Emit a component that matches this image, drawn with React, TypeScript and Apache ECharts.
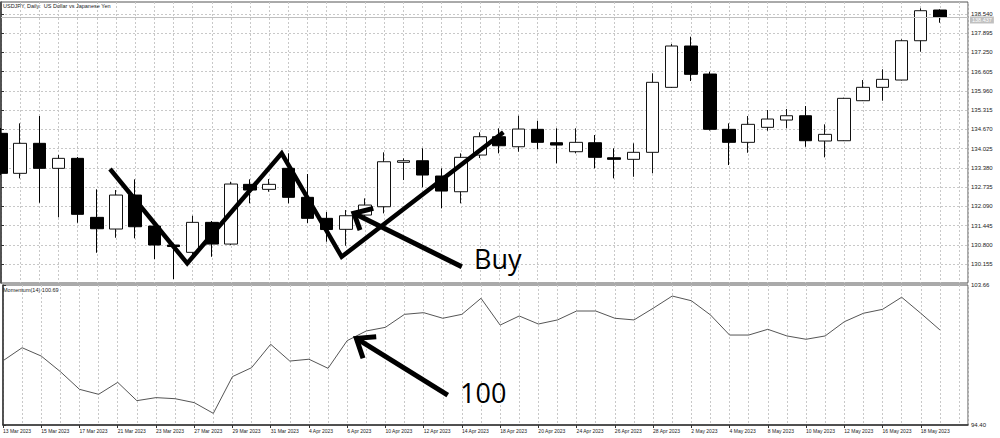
import React, { useEffect, useRef } from 'react';
import * as echarts from 'echarts';

const dates = [
  '13 Mar 2023', '14 Mar 2023', '15 Mar 2023', '16 Mar 2023', '17 Mar 2023',
  '20 Mar 2023', '21 Mar 2023', '22 Mar 2023', '23 Mar 2023', '24 Mar 2023',
  '27 Mar 2023', '28 Mar 2023', '29 Mar 2023', '30 Mar 2023', '31 Mar 2023',
  '3 Apr 2023', '4 Apr 2023', '5 Apr 2023', '6 Apr 2023', '7 Apr 2023',
  '10 Apr 2023', '11 Apr 2023', '12 Apr 2023', '13 Apr 2023', '14 Apr 2023',
  '17 Apr 2023', '18 Apr 2023', '19 Apr 2023', '20 Apr 2023', '21 Apr 2023',
  '24 Apr 2023', '25 Apr 2023', '26 Apr 2023', '27 Apr 2023', '28 Apr 2023',
  '1 May 2023', '2 May 2023', '3 May 2023', '4 May 2023', '5 May 2023',
  '8 May 2023', '9 May 2023', '10 May 2023', '11 May 2023', '12 May 2023',
  '15 May 2023', '16 May 2023', '17 May 2023', '18 May 2023', '19 May 2023',
];

const opens = [
  134.538, 133.196, 134.203, 133.364, 133.699, 131.720, 131.328, 132.468, 131.428, 130.791,
  130.546, 131.552, 130.824, 132.827, 132.659, 133.364, 132.391, 131.687, 131.318, 131.797,
  132.076, 133.565, 133.619, 133.106, 132.579, 133.810, 134.424, 134.088, 134.672, 134.223,
  133.921, 134.223, 133.719, 133.666, 133.901, 136.081, 137.467, 136.527, 134.672, 134.236,
  134.739, 134.984, 135.128, 134.280, 134.290, 135.632, 136.081, 136.326, 137.644, 138.674,
];
const closes = [
  133.196, 134.203, 133.364, 133.699, 131.821, 131.338, 132.468, 131.405, 130.791, 130.741,
  131.552, 130.824, 132.837, 132.636, 132.827, 132.391, 131.687, 131.311, 131.774, 132.133,
  133.585, 133.619, 133.139, 132.602, 133.733, 134.424, 134.122, 134.682, 134.236, 134.145,
  134.236, 133.733, 133.666, 133.901, 136.249, 137.467, 136.517, 134.672, 134.236, 134.840,
  135.018, 135.128, 134.290, 134.504, 135.712, 136.081, 136.349, 137.644, 138.651, 138.437,
];
const lows = [
  133.139, 133.028, 132.210, 131.720, 131.539, 130.533, 131.036, 131.016, 130.321, 129.650,
  130.388, 130.398, 130.791, 132.190, 132.579, 132.190, 131.529, 130.902, 130.767, 131.730,
  131.854, 132.971, 132.726, 132.022, 132.190, 133.709, 133.867, 133.921, 134.001, 133.532,
  133.867, 133.364, 133.028, 133.082, 133.196, 136.058, 136.292, 134.632, 133.475, 133.887,
  134.625, 134.706, 134.088, 133.733, 134.280, 135.622, 135.632, 136.309, 137.275, 138.248,
];
const highs = [
  134.716, 134.873, 135.118, 133.810, 133.743, 132.659, 132.636, 132.995, 131.462, 130.841,
  131.774, 131.596, 132.914, 132.995, 133.005, 133.867, 133.173, 131.898, 131.965, 132.357,
  133.901, 133.699, 134.035, 133.364, 133.867, 134.572, 134.706, 135.128, 134.961, 134.706,
  134.706, 134.481, 134.035, 134.203, 136.551, 137.534, 137.779, 136.604, 134.873, 135.118,
  135.320, 135.353, 135.454, 134.840, 135.732, 136.326, 136.685, 137.691, 138.731, 138.698,
];

const momentum = [
  98.65, 99.51, 98.96, 97.93, 96.76, 96.43, 97.22, 96.01, 96.21, 96.14,
  95.88, 95.17, 97.60, 98.19, 99.74, 98.63, 98.75, 98.15, 99.98, 100.62,
  100.86, 101.72, 101.83, 101.46, 101.72, 102.78, 101.01, 101.61, 101.08, 101.35,
  101.94, 101.94, 101.46, 101.35, 102.12, 102.93, 102.62, 101.68, 100.35, 100.35,
  100.73, 100.29, 100.07, 100.29, 101.23, 101.79, 102.05, 102.85, 101.79, 100.69,
];

const priceTicks = [
  130.155, 130.800, 131.445, 132.090, 132.735, 133.380, 134.025,
  134.670, 135.315, 135.960, 136.605, 137.250, 137.895, 138.540,
];
const momentumTicks = [94.40, 103.66];
const dateLabelIndex = [0, 2, 4, 6, 8, 10, 12, 14, 16, 18, 20, 22, 24, 26, 28, 30, 32, 34, 36, 38, 40, 42, 44, 46, 48];

// hand-drawn annotations (data coordinates: candle index, value)
const zigzag = [[5.69, 133.340], [9.72, 130.177], [14.65, 133.867], [17.78, 130.398], [26.22, 134.572]];
const buyShaft = [[24.05, 130.063], [18.42, 131.854]];
const buyHead = [[19.43, 132.022], [18.42, 131.854], [18.74, 131.294]];
const momShaft = [[23.26, 96.38], [18.48, 100.13]];
const momHead = [[19.52, 100.24], [18.48, 100.13], [18.83, 98.81]];

const FONT = 'Liberation Sans';
const X_MAX = 50.47;
const PRICE_MIN = 129.518;
const PRICE_MAX = 138.943;
const MOM_MIN = 94.40;
const MOM_MAX = 103.66;

export default function App() {
  const ref = useRef<HTMLDivElement>(null);

  useEffect(() => {
    if (!ref.current) return;
    const chart = echarts.init(ref.current, null, { renderer: 'svg' });
    const gridLine = { color: '#c8c8c8', type: [2, 2], width: 1 };
    const candles = opens.map((o, i) => [i, o, closes[i], lows[i], highs[i]]);
    const lastClose = closes[closes.length - 1];
    const lastMom = momentum[momentum.length - 1];

    const annot = (data: number[][], xi: number, yi: number, w: number) => ({
      type: 'line',
      xAxisIndex: xi,
      yAxisIndex: yi,
      data,
      symbol: 'none',
      silent: true,
      clip: false,
      z: 10,
      lineStyle: { color: '#000', width: w, cap: 'butt', join: 'miter' },
    });

    chart.setOption({
      animation: false,
      backgroundColor: '#ffffff',
      textStyle: { fontFamily: FONT },
      grid: [
        { left: 1, right: 32, top: 2, height: 281, show: true, borderColor: '#555', borderWidth: 1 },
        { left: 1, right: 32, top: 285, height: 140, show: true, borderColor: '#555', borderWidth: 1 },
      ],
      xAxis: [
        {
          type: 'value', gridIndex: 0, min: 0, max: X_MAX, interval: 1,
          axisLine: { show: false }, axisTick: { show: false }, axisLabel: { show: false },
          splitLine: { show: true, lineStyle: gridLine },
        },
        {
          type: 'value', gridIndex: 1, min: 0, max: X_MAX, interval: 1,
          axisLine: { show: false }, axisTick: { show: false }, axisLabel: { show: false },
          splitLine: { show: true, lineStyle: gridLine },
        },
        {
          type: 'value', gridIndex: 1, min: 0, max: X_MAX, position: 'bottom',
          axisLine: { show: true, lineStyle: { color: '#333', width: 1.5 } },
          axisTick: { show: true, customValues: dateLabelIndex, length: 3, lineStyle: { color: '#333' } },
          axisLabel: {
            show: true, customValues: dateLabelIndex,
            formatter: (v: number) => dates[Math.round(v)] ?? '',
            align: 'left', fontSize: 5, color: '#222', margin: 3, fontFamily: FONT,
          },
          splitLine: { show: false },
        },
      ],
      yAxis: [
        {
          type: 'value', gridIndex: 0, position: 'right', min: PRICE_MIN, max: PRICE_MAX,
          axisLine: { show: true, lineStyle: { color: '#333', width: 1.5 } },
          axisTick: { show: true, customValues: priceTicks, length: 3, lineStyle: { color: '#333' } },
          axisLabel: {
            show: true, customValues: priceTicks,
            formatter: (v: number) => v.toFixed(3),
            fontSize: 6, color: '#222', margin: 3, fontFamily: FONT,
          },
          splitLine: { show: true, lineStyle: gridLine },
        },
        {
          type: 'value', gridIndex: 1, position: 'right', min: MOM_MIN, max: MOM_MAX,
          axisLine: { show: true, lineStyle: { color: '#333', width: 1.5 } },
          axisTick: { show: true, customValues: momentumTicks, length: 3, lineStyle: { color: '#333' } },
          axisLabel: {
            show: true, customValues: momentumTicks,
            formatter: (v: number) => v.toFixed(2),
            fontSize: 6, color: '#222', margin: 3, fontFamily: FONT,
          },
          splitLine: { show: false },
        },
      ],
      series: [
        {
          type: 'candlestick',
          xAxisIndex: 0,
          yAxisIndex: 0,
          data: candles,
          barWidth: 13,
          clip: false,
          itemStyle: {
            color: '#ffffff', color0: '#000000',
            borderColor: '#111', borderColor0: '#000', borderColorDoji: '#000',
            borderWidth: 1,
          },
          markLine: {
            silent: true,
            symbol: 'none',
            data: [{ yAxis: lastClose }],
            lineStyle: { color: '#c0c0c0', type: 'solid', width: 1 },
            label: {
              show: true, position: 'end', distance: 2, offset: [0, 3],
              formatter: () => lastClose.toFixed(3),
              backgroundColor: '#c0c0c0', color: '#ffffff', fontSize: 5.5, fontFamily: FONT,
              padding: [1, 2, 0, 2],
            },
          },
        },
        {
          type: 'line',
          xAxisIndex: 1,
          yAxisIndex: 1,
          data: momentum.map((v, i) => [i, v]),
          symbol: 'none',
          lineStyle: { color: '#555', width: 1 },
        },
        annot(zigzag, 0, 0, 4.5),
        annot(buyShaft, 0, 0, 5),
        annot(buyHead, 0, 0, 5),
        annot(momShaft, 1, 1, 5),
        annot(momHead, 1, 1, 5),
      ],
      graphic: [
        {
          type: 'text', left: 3, top: 3, z: 20,
          style: { text: 'USDJPY, Daily:  US Dollar vs Japanese Yen', font: `5.5px "${FONT}"`, fill: '#222' },
        },
        {
          type: 'text', left: 3, top: 287, z: 20,
          style: { text: `Momentum(14) ${lastMom.toFixed(2)}`, font: `5.5px "${FONT}"`, fill: '#222' },
        },
        {
          type: 'text', x: 474, y: 258.5, z: 20,
          style: { text: 'Buy', font: '27px "Open Sans"', fill: '#000', verticalAlign: 'middle' },
        },
        {
          type: 'text', x: 460, y: 392.5, z: 20,
          style: { text: '100', font: '27px "Open Sans"', fill: '#000', verticalAlign: 'middle' },
        },
      ],
    });

    return () => chart.dispose();
  }, []);

  return (
    <div
      ref={ref}
      style={{ position: 'absolute', left: 0, top: 0, width: 1000, height: 438, background: '#fff' }}
    />
  );
}
